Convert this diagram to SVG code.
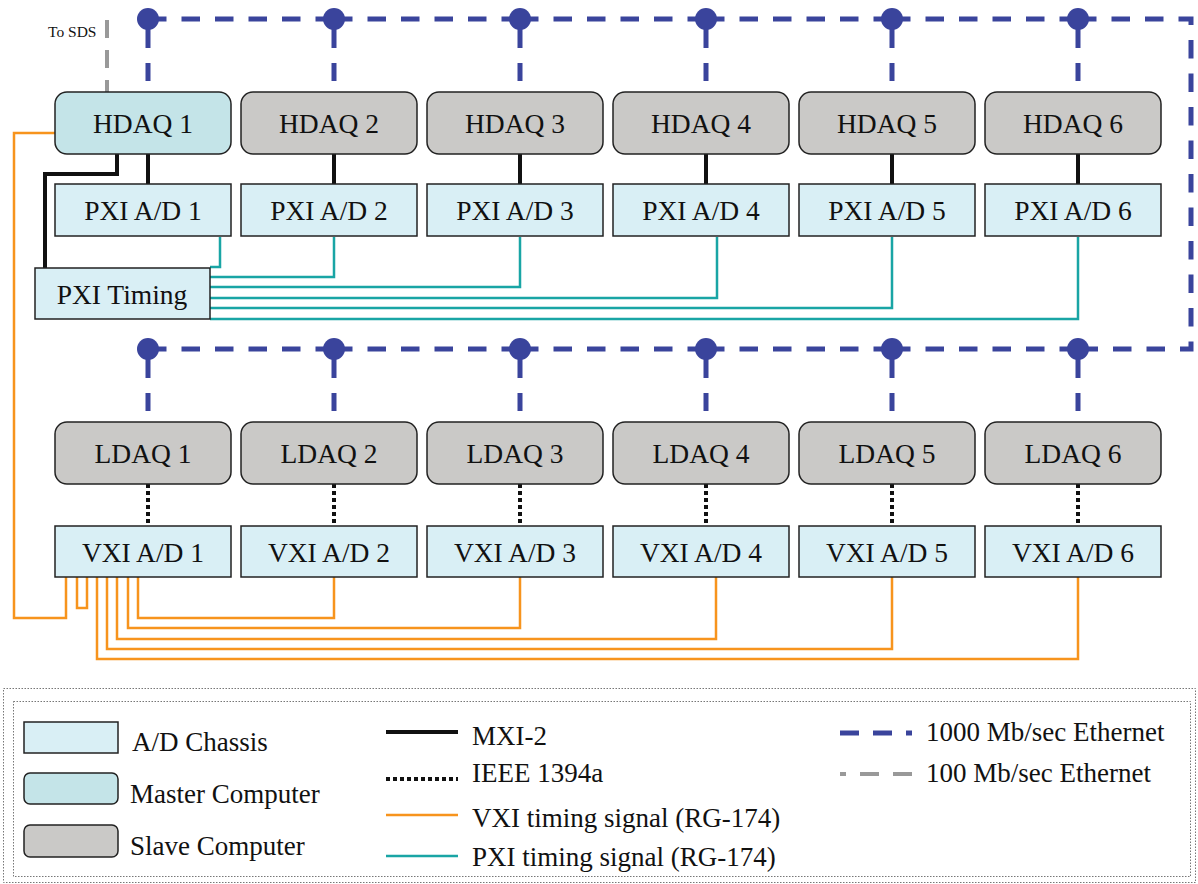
<svg xmlns="http://www.w3.org/2000/svg" width="1198" height="884" viewBox="0 0 1198 884">
<style>
text{font-family:"Liberation Serif","Times New Roman",serif;fill:#111;}
.lbl{font-size:27.5px;text-anchor:middle;}
.lg{font-size:27px;}
.ad{fill:#d9eff5;stroke:#222;stroke-width:1.5;}
.master{fill:#c4e4e8;stroke:#222;stroke-width:1.5;}
.slave{fill:#cac9c7;stroke:#222;stroke-width:1.5;}
.eth{fill:none;stroke:#3a449c;stroke-width:5;}
.ethh{fill:none;stroke:#3a449c;stroke-width:5;stroke-dasharray:18.5 15;}
.ethv{fill:none;stroke:#3a449c;stroke-width:5;stroke-dasharray:29 15 18 40;}
.dot{fill:#3a449c;}
.g100{fill:none;stroke:#999;stroke-width:4;stroke-dasharray:18 12;}
.mxi{fill:none;stroke:#111;stroke-width:4;}
.ieee{fill:none;stroke:#111;stroke-width:4;stroke-dasharray:4 3;}
.vxi{fill:none;stroke:#f7941d;stroke-width:2.5;}
.pxi{fill:none;stroke:#19a5a5;stroke-width:2.5;}
.border{fill:none;stroke:#777;stroke-width:1;stroke-dasharray:1.5 1.5;}
</style>

<g id="connectors">
  <path class="g100" d="M107,20 V92"/>
  <path class="ethh" d="M148,19 H334"/>
  <path class="ethh" d="M334,19 H520"/>
  <path class="ethh" d="M520,19 H706"/>
  <path class="ethh" d="M706,19 H892"/>
  <path class="ethh" d="M892,19 H1078"/>
  <path class="ethh" d="M1078,19 H1191 V349 H1078"/>
  <path class="ethh" d="M148,349 H334"/>
  <path class="ethh" d="M334,349 H520"/>
  <path class="ethh" d="M520,349 H706"/>
  <path class="ethh" d="M706,349 H892"/>
  <path class="ethh" d="M892,349 H1078"/>
  <path class="ethv" d="M148,19 V92 M334,19 V92 M520,19 V92 M706,19 V92 M892,19 V92 M1078,19 V92"/>
  <path class="ethv" d="M148,349 V422 M334,349 V422 M520,349 V422 M706,349 V422 M892,349 V422 M1078,349 V422"/>
  <g class="dot">
    <circle cx="148" cy="19" r="11"/><circle cx="334" cy="19" r="11"/><circle cx="520" cy="19" r="11"/>
    <circle cx="706" cy="19" r="11"/><circle cx="892" cy="19" r="11"/><circle cx="1078" cy="19" r="11"/>
    <circle cx="148" cy="349" r="11"/><circle cx="334" cy="349" r="11"/><circle cx="520" cy="349" r="11"/>
    <circle cx="706" cy="349" r="11"/><circle cx="892" cy="349" r="11"/><circle cx="1078" cy="349" r="11"/>
  </g>
  <path class="mxi" d="M148,154 V184 M334,154 V184 M520,154 V184 M706,154 V184 M892,154 V184 M1078,154 V184"/>
  <path class="mxi" d="M117,154 V174 H45 V268"/>
  <path class="ieee" d="M148,484 V526 M334,484 V526 M520,484 V526 M706,484 V526 M892,484 V526 M1078,484 V526"/>
  <path class="pxi" d="M210,267 H220 V237"/>
  <path class="pxi" d="M210,277 H334 V237"/>
  <path class="pxi" d="M210,287 H520 V237"/>
  <path class="pxi" d="M210,298 H717 V237"/>
  <path class="pxi" d="M210,308 H892 V237"/>
  <path class="pxi" d="M210,319 H1078 V237"/>
  <path class="vxi" d="M55,133 H14 V618 H66 V577"/>
  <path class="vxi" d="M77,577 V608 H87 V577"/>
  <path class="vxi" d="M138,577 V618 H334 V577"/>
  <path class="vxi" d="M128,577 V628 H520 V577"/>
  <path class="vxi" d="M117,577 V639 H716 V577"/>
  <path class="vxi" d="M107,577 V649 H892 V577"/>
  <path class="vxi" d="M97,577 V659 H1078 V577"/>
</g>

<text x="48" y="37" style="font-size:15.5px">To SDS</text>

<g id="hdaq1"><rect class="master" x="55" y="92" width="176" height="62" rx="12"/><text class="lbl" x="143" y="133">HDAQ 1</text></g>
<g id="hdaq2"><rect class="slave" x="241" y="92" width="176" height="62" rx="12"/><text class="lbl" x="329" y="133">HDAQ 2</text></g>
<g id="hdaq3"><rect class="slave" x="427" y="92" width="176" height="62" rx="12"/><text class="lbl" x="515" y="133">HDAQ 3</text></g>
<g id="hdaq4"><rect class="slave" x="613" y="92" width="176" height="62" rx="12"/><text class="lbl" x="701" y="133">HDAQ 4</text></g>
<g id="hdaq5"><rect class="slave" x="799" y="92" width="176" height="62" rx="12"/><text class="lbl" x="887" y="133">HDAQ 5</text></g>
<g id="hdaq6"><rect class="slave" x="985" y="92" width="176" height="62" rx="12"/><text class="lbl" x="1073" y="133">HDAQ 6</text></g>

<g id="pxi1"><rect class="ad" x="55" y="184" width="176" height="52"/><text class="lbl" x="143" y="220">PXI A/D 1</text></g>
<g id="pxi2"><rect class="ad" x="241" y="184" width="176" height="52"/><text class="lbl" x="329" y="220">PXI A/D 2</text></g>
<g id="pxi3"><rect class="ad" x="427" y="184" width="176" height="52"/><text class="lbl" x="515" y="220">PXI A/D 3</text></g>
<g id="pxi4"><rect class="ad" x="613" y="184" width="176" height="52"/><text class="lbl" x="701" y="220">PXI A/D 4</text></g>
<g id="pxi5"><rect class="ad" x="799" y="184" width="176" height="52"/><text class="lbl" x="887" y="220">PXI A/D 5</text></g>
<g id="pxi6"><rect class="ad" x="985" y="184" width="176" height="52"/><text class="lbl" x="1073" y="220">PXI A/D 6</text></g>

<g id="pxitiming"><rect class="ad" x="35" y="268" width="175" height="51"/><text class="lbl" x="122" y="304">PXI Timing</text></g>

<g id="ldaq1"><rect class="slave" x="55" y="422" width="176" height="62" rx="12"/><text class="lbl" x="143" y="463">LDAQ 1</text></g>
<g id="ldaq2"><rect class="slave" x="241" y="422" width="176" height="62" rx="12"/><text class="lbl" x="329" y="463">LDAQ 2</text></g>
<g id="ldaq3"><rect class="slave" x="427" y="422" width="176" height="62" rx="12"/><text class="lbl" x="515" y="463">LDAQ 3</text></g>
<g id="ldaq4"><rect class="slave" x="613" y="422" width="176" height="62" rx="12"/><text class="lbl" x="701" y="463">LDAQ 4</text></g>
<g id="ldaq5"><rect class="slave" x="799" y="422" width="176" height="62" rx="12"/><text class="lbl" x="887" y="463">LDAQ 5</text></g>
<g id="ldaq6"><rect class="slave" x="985" y="422" width="176" height="62" rx="12"/><text class="lbl" x="1073" y="463">LDAQ 6</text></g>

<g id="vxi1"><rect class="ad" x="55" y="526" width="176" height="51"/><text class="lbl" x="143" y="562">VXI A/D 1</text></g>
<g id="vxi2"><rect class="ad" x="241" y="526" width="176" height="51"/><text class="lbl" x="329" y="562">VXI A/D 2</text></g>
<g id="vxi3"><rect class="ad" x="427" y="526" width="176" height="51"/><text class="lbl" x="515" y="562">VXI A/D 3</text></g>
<g id="vxi4"><rect class="ad" x="613" y="526" width="176" height="51"/><text class="lbl" x="701" y="562">VXI A/D 4</text></g>
<g id="vxi5"><rect class="ad" x="799" y="526" width="176" height="51"/><text class="lbl" x="887" y="562">VXI A/D 5</text></g>
<g id="vxi6"><rect class="ad" x="985" y="526" width="176" height="51"/><text class="lbl" x="1073" y="562">VXI A/D 6</text></g>

<g id="legend">
  <rect class="border" x="3.5" y="688.5" width="1192" height="194"/>
  <rect class="border" x="13.5" y="701.5" width="1177" height="175"/>
  <rect class="ad" x="24" y="722" width="94" height="31"/>
  <text class="lg" x="132" y="751">A/D Chassis</text>
  <rect class="master" x="24" y="773" width="94" height="31" rx="6"/>
  <text class="lg" x="130" y="803">Master Computer</text>
  <rect class="slave" x="24" y="825" width="94" height="32" rx="6"/>
  <text class="lg" x="130" y="855">Slave Computer</text>
  <path class="mxi" d="M386,732 H458"/>
  <text class="lg" x="472" y="745">MXI-2</text>
  <path class="ieee" d="M386,779 H458"/>
  <text class="lg" x="472" y="782">IEEE 1394a</text>
  <path class="vxi" d="M386,815 H458"/>
  <text class="lg" x="472" y="827">VXI timing signal (RG-174)</text>
  <path class="pxi" d="M386,856 H458"/>
  <text class="lg" x="472" y="866">PXI timing signal (RG-174)</text>
  <path class="eth" style="stroke-dasharray:19 14" d="M840,733 H912"/>
  <text class="lg" x="926" y="741">1000 Mb/sec Ethernet</text>
  <path style="fill:none;stroke:#999;stroke-width:4;stroke-dasharray:6 14 19 14 19 14" d="M840,774 H912"/>
  <text class="lg" x="926" y="782">100 Mb/sec Ethernet</text>
</g>
</svg>
